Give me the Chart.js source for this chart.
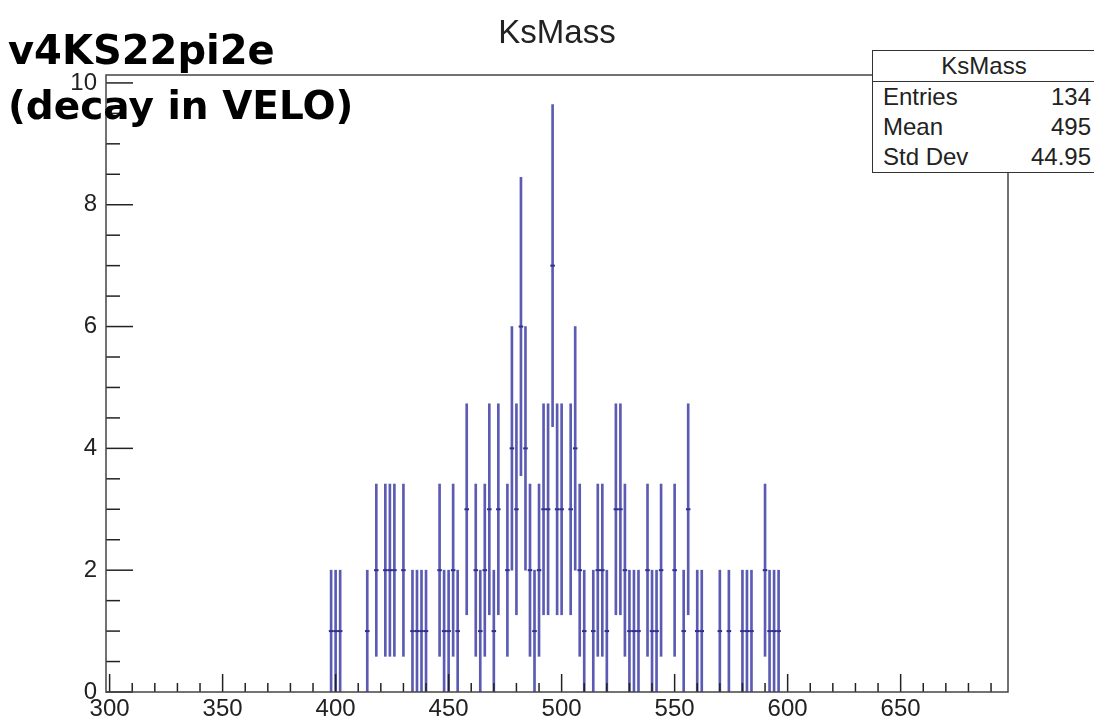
<!DOCTYPE html>
<html>
<head>
<meta charset="utf-8">
<script src="https://cdn.jsdelivr.net/npm/chart.js@4.4.1/dist/chart.umd.min.js"></script>
<style>
  body { margin: 0; background: #fff; }
  #wrap { position: relative; width: 1094px; height: 721px; overflow: hidden; background: #fff; }
  #chart { position: absolute; left: 0; top: 0; }
  .txt { position: absolute; white-space: nowrap; line-height: 1; }
  #title { left: 0; width: 1114px; top: 13px; text-align: center; font: 33px "Liberation Sans", Arial, sans-serif; color: #222; }
  .note { left: 8px; font: bold 40px "DejaVu Sans", sans-serif; color: #000; }
  #stats { position: absolute; left: 872px; top: 50px; width: 222px; border: 1.5px solid #333; background: #fff;
           font: 24px "Liberation Sans", Arial, sans-serif; color: #222; }
  #stats .head { text-align: center; height: 30px; line-height: 30px; border-bottom: 1.5px solid #333; }
  #stats .row { display: flex; justify-content: space-between; height: 30px; line-height: 30px; padding: 0 4px 0 10px; }
</style>
</head>
<body>
<div id="wrap">
  <canvas id="chart" width="1094" height="721"></canvas>
  <div class="txt" id="title">KsMass</div>
  <div class="txt note" style="top:27px">v4KS22pi2e</div>
  <div class="txt note" style="top:83px;font-size:39px">(decay in VELO)</div>
  <div id="stats">
    <div class="head">KsMass</div>
    <div class="row"><span>Entries</span><span>134</span></div>
    <div class="row"><span>Mean</span><span>495</span></div>
    <div class="row"><span>Std Dev</span><span>44.95</span></div>
  </div>
</div>
<script>
// histogram bins (centre, entries)
const binCenters = [398, 400, 402, 414, 418, 422, 424, 426, 430, 434, 436, 438, 440,
    446, 448, 450, 452, 454, 458, 462, 464, 466, 468, 470, 472,
    476, 478, 480, 482, 484, 486, 488, 490, 492, 494, 496, 498, 500,
    504, 506, 508, 510, 514, 516, 518, 520, 524, 526, 528, 530, 532, 534,
    538, 540, 542, 544, 550, 554, 556, 560, 562, 570, 574, 580, 582, 584,
    590, 592, 594, 596];
const binCounts = [1, 1, 1, 1, 2, 2, 2, 2, 2, 1, 1, 1, 1,
    2, 1, 1, 2, 1, 3, 2, 1, 2, 3, 1, 3,
    2, 4, 3, 6, 4, 2, 1, 2, 3, 3, 7, 3, 3,
    3, 4, 2, 1, 1, 2, 2, 1, 3, 3, 2, 1, 1, 1,
    2, 1, 1, 2, 2, 1, 3, 1, 1, 1, 1, 1, 1, 1,
    2, 1, 1, 1];
const binWidth = 2;
const xRange = [298.4, 697.5];
const yMax = 10.13;
const xTickLabels = [300, 350, 400, 450, 500, 550, 600, 650];
const yTickLabels = [0, 2, 4, 6, 8, 10];

const barColor = 'rgba(50, 50, 160, 0.8)';

// vertical error bars: N +- sqrt(N)
const errorBars = binCenters.map((c, i) => {
    const n = binCounts[i];
    const e = Math.sqrt(n);
    return { x: c, y: [Math.max(0, n - e), n + e] };
});
const binMarks = binCenters.map((c, i) => ({ x: c, y: binCounts[i] }));

// ROOT-like frame with ticks pointing into the pad
const rootFrame = {
    id: 'rootFrame',
    afterDatasetsDraw(chart) {
        const { ctx, chartArea: a, scales: { x, y } } = chart;
        ctx.save();
        ctx.strokeStyle = '#222';
        ctx.lineWidth = 1.5;
        for (let v = 300; v < xRange[1]; v += 10) {
            const px = x.getPixelForValue(v);
            const len = v % 50 === 0 ? 18 : 9;
            ctx.beginPath();
            ctx.moveTo(px, a.bottom);
            ctx.lineTo(px, a.bottom - len);
            ctx.stroke();
        }
        for (let v = 0; v <= 10; v += 0.5) {
            const py = y.getPixelForValue(v);
            const len = v % 2 === 0 ? 27 : 14;
            ctx.beginPath();
            ctx.moveTo(a.left, py);
            ctx.lineTo(a.left + len, py);
            ctx.stroke();
        }
        ctx.strokeStyle = '#444';
        ctx.strokeRect(a.left, a.top, a.right - a.left, a.bottom - a.top);
        ctx.restore();
    }
};

new Chart(document.getElementById('chart'), {
    type: 'bar',
    data: {
        datasets: [
            {
                type: 'bar',
                data: errorBars,
                backgroundColor: barColor,
                borderWidth: 0,
                barThickness: 2,
                grouped: false
            },
            {
                type: 'scatter',
                data: binMarks,
                pointStyle: 'line',
                borderColor: 'rgba(30, 30, 120, 0.95)',
                borderWidth: 2,
                // half a bin wide, from the x scale
                radius: (c) => {
                    const s = c.chart.scales.x;
                    return Math.abs(s.getPixelForValue(binWidth) - s.getPixelForValue(0)) / 2;
                },
                hoverRadius: 0
            }
        ]
    },
    options: {
        responsive: false,
        animation: false,
        devicePixelRatio: 1,
        layout: { padding: { top: 75, right: 86, left: 0, bottom: 0 } },
        plugins: { legend: { display: false }, tooltip: { enabled: false } },
        scales: {
            x: {
                type: 'linear',
                offset: false,
                min: xRange[0],
                max: xRange[1],
                grid: { display: false, drawTicks: false, offset: false },
                border: { display: false },
                afterBuildTicks: (s) => { s.ticks = xTickLabels.map(v => ({ value: v })); },
                afterFit: (s) => { s.height = 29; },
                ticks: {
                    padding: 3,
                    maxRotation: 0,
                    autoSkip: false,
                    color: '#222',
                    font: { family: '"Liberation Sans", Arial, sans-serif', size: 24 }
                }
            },
            y: {
                min: 0,
                max: yMax,
                grid: { display: false, drawTicks: false },
                border: { display: false },
                afterBuildTicks: (s) => { s.ticks = yTickLabels.map(v => ({ value: v })); },
                afterFit: (s) => { s.width = 106; },
                ticks: {
                    padding: 9,
                    color: '#222',
                    font: { family: '"Liberation Sans", Arial, sans-serif', size: 24 }
                }
            }
        }
    },
    plugins: [rootFrame]
});
</script>
</body>
</html>
